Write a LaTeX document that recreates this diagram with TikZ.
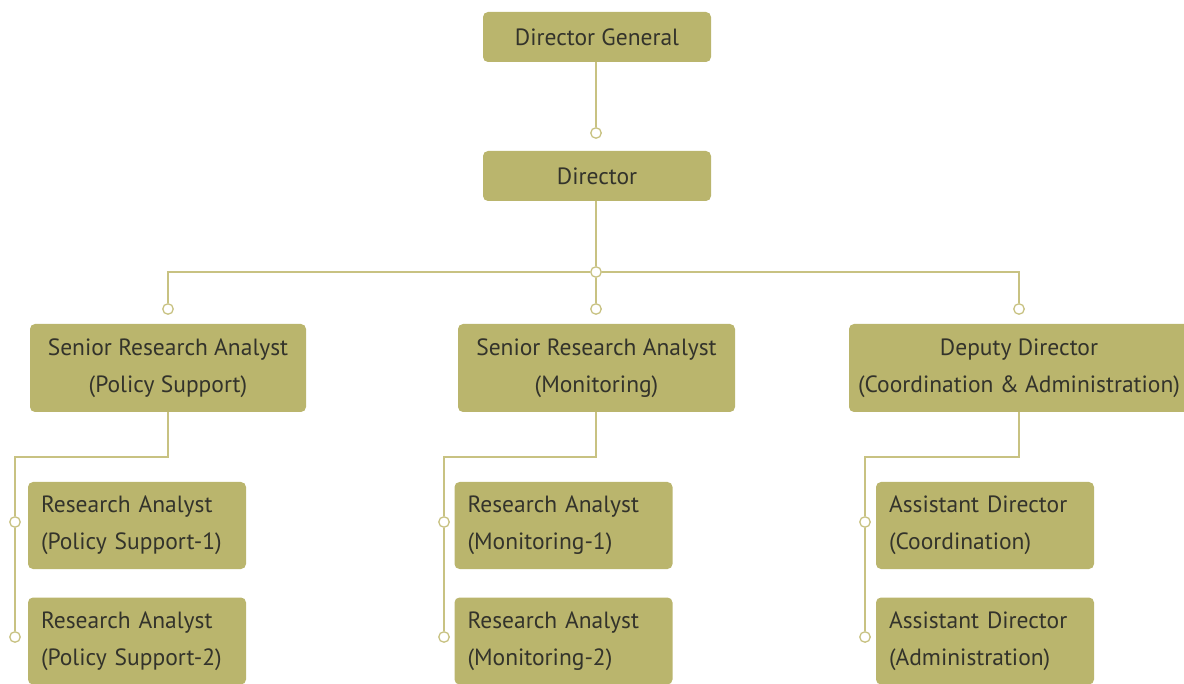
\documentclass[tikz,border=0pt]{standalone}
\usepackage{fontspec}
\setmainfont{PT Sans}
\definecolor{boxfill}{HTML}{BAB56D}
\definecolor{linkcol}{HTML}{C8C282}
\definecolor{txt}{HTML}{33332B}
\begin{document}
\begin{tikzpicture}[x=1pt,y=-1pt,
  box/.style={fill=boxfill, rounded corners=5pt, text=txt, inner sep=0pt,
    font=\fontsize{23.5}{37}\selectfont, align=center},
  topbox/.style={box, minimum width=228pt, minimum height=50pt},
  midbox/.style={box, minimum height=88pt},
  leafbox/.style={box, minimum height=87pt, text width=192pt, align=left, inner xsep=13pt},
  dot/.style={circle, draw=linkcol, fill=white, line width=1.3pt, minimum size=10.5pt, inner sep=0pt},
  link/.style={draw=linkcol, line width=1.5pt}]
\useasboundingbox (0,0) rectangle (1184,684);
\clip (0,0) rectangle (1184,684);

% top of the chart
\node[topbox] (dg) at (597,37) {Director General};
\node[topbox] (dir) at (597,176) {Director};
\node[dot] (d1) at (596,133) {};
\node[dot] (hub) at (596,272) {};

% second level
\node[midbox, minimum width=276pt] (sp) at (168,368) {Senior Research Analyst\\(Policy Support)};
\node[midbox, minimum width=277pt] (sm) at (596.5,368) {Senior Research Analyst\\(Monitoring)};
\node[midbox, minimum width=340pt] (dd) at (1019,368) {Deputy Director\\(Coordination \& Administration)};
\node[dot] (dl) at (168,309) {};
\node[dot] (dm) at (596,309) {};
\node[dot] (dr) at (1019,309) {};

% third level
\node[leafbox] (p1) at (137,525.5) {Research Analyst\\(Policy Support-1)};
\node[leafbox] (p2) at (137,641) {Research Analyst\\(Policy Support-2)};
\node[leafbox] (m1) at (563.5,525.5) {Research Analyst\\(Monitoring-1)};
\node[leafbox] (m2) at (563.5,641) {Research Analyst\\(Monitoring-2)};
\node[leafbox] (a1) at (985,525.5) {Assistant Director\\(Coordination)};
\node[leafbox] (a2) at (985,641) {Assistant Director\\(Administration)};
\node[dot] (pl1) at (15,522) {};
\node[dot] (pl2) at (15,637) {};
\node[dot] (ml1) at (444,522) {};
\node[dot] (ml2) at (444,637) {};
\node[dot] (al1) at (865,522) {};
\node[dot] (al2) at (865,637) {};

% corner points of the elbow connectors
\coordinate (hl) at (168,272);
\coordinate (hr) at (1019,272);
\coordinate (pk) at (168,457);
\coordinate (pj) at (15,457);
\coordinate (mk) at (596,457);
\coordinate (mj) at (444,457);
\coordinate (ak) at (1019,457);
\coordinate (aj) at (865,457);

% connectors
\draw[link] (dg.south -| d1) -- (d1);
\draw[link] (dir.south -| hub) -- (hub);
\draw[link] (hub) -- (hl) -- (dl);
\draw[link] (hub) -- (hr) -- (dr);
\draw[link] (hub) -- (dm);
\draw[link] (sp.south) -- (pk) -- (pj) -- (pl1);
\draw[link] (pl1) -- (pl2);
\draw[link] (sm.south -| mk) -- (mk) -- (mj) -- (ml1);
\draw[link] (ml1) -- (ml2);
\draw[link] (dd.south) -- (ak) -- (aj) -- (al1);
\draw[link] (al1) -- (al2);
\end{tikzpicture}
\end{document}
